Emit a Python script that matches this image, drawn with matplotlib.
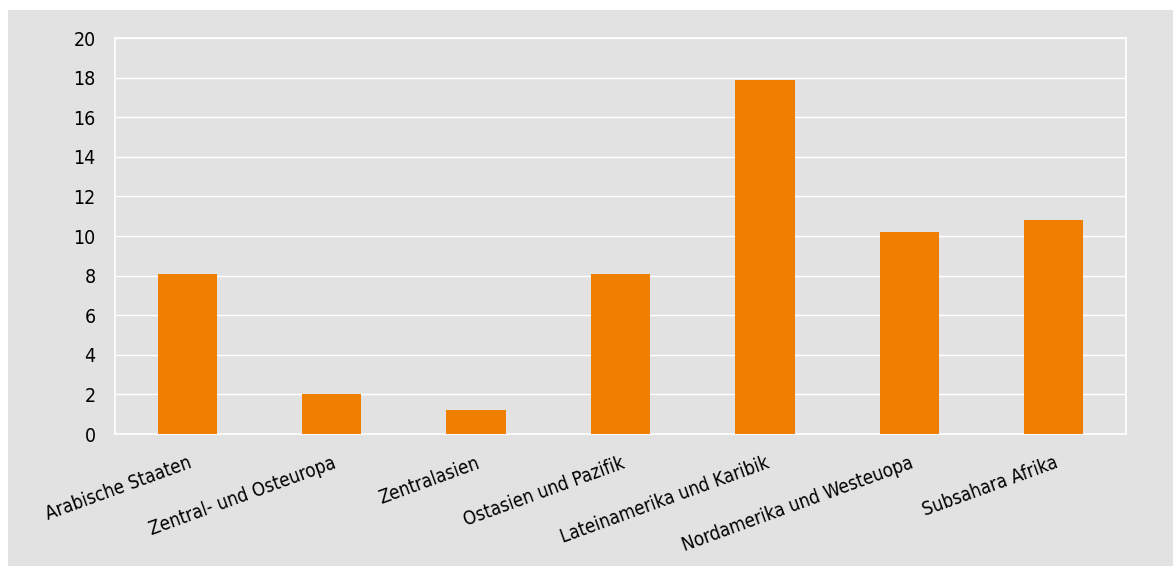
import matplotlib
matplotlib.use("Agg")
import matplotlib.pyplot as plt
from matplotlib.patches import Rectangle

# Regionen und Werte
regions = [
    "Arabische Staaten",
    "Zentral- und Osteuropa",
    "Zentralasien",
    "Ostasien und Pazifik",
    "Lateinamerika und Karibik",
    "Nordamerika und Westeuopa",
    "Subsahara Afrika",
]
values = [8.1, 2.0, 1.2, 8.1, 17.9, 10.2, 10.8]
negative = [0, 0, 0, 0, 0, -0.12, 0]
yticks = [0, 2, 4, 6, 8, 10, 12, 14, 16, 18, 20]

orange = "#f07e00"
grey = "#e2e2e2"

plt.rcParams["font.family"] = ["DejaVu Sans"]
plt.rcParams["font.stretch"] = "condensed"

fig = plt.figure(figsize=(11.73, 5.66), dpi=100)
fig.patch.set_facecolor("white")
# grauer Hintergrund mit weissem Rand oben/links
fig.patches.append(Rectangle((8 / 1173, 0), 1, 1 - 10 / 566, transform=fig.transFigure,
                             facecolor=grey, edgecolor="none", zorder=-10))

ax = fig.add_axes([115 / 1173, 1 - 434 / 566, (1126 - 115) / 1173, (434 - 38) / 566])
ax.set_facecolor(grey)

x = range(len(regions))
ax.bar(x, values, width=0.41, color=orange, zorder=3)
ax.bar(x, negative, width=0.41, color=orange, zorder=3)

ax.set_xlim(-0.5, len(regions) - 0.5)
ax.set_ylim(0, 20)
ax.set_yticks(yticks)
ax.set_yticklabels([str(t) for t in yticks], fontsize=14)
ax.grid(axis="y", color="white", linewidth=1.0, zorder=1)
for s in ax.spines.values():
    s.set_color("white")
    s.set_linewidth(1.2)
ax.tick_params(axis="both", length=0)
ax.tick_params(axis="y", pad=14)

ax.set_xticks(list(x))
ax.set_xticklabels(regions, rotation=20, ha="right", rotation_mode="anchor", fontsize=13.5)
ax.tick_params(axis="x", pad=14)

fig.savefig("out.png", dpi=100, facecolor=fig.get_facecolor())
